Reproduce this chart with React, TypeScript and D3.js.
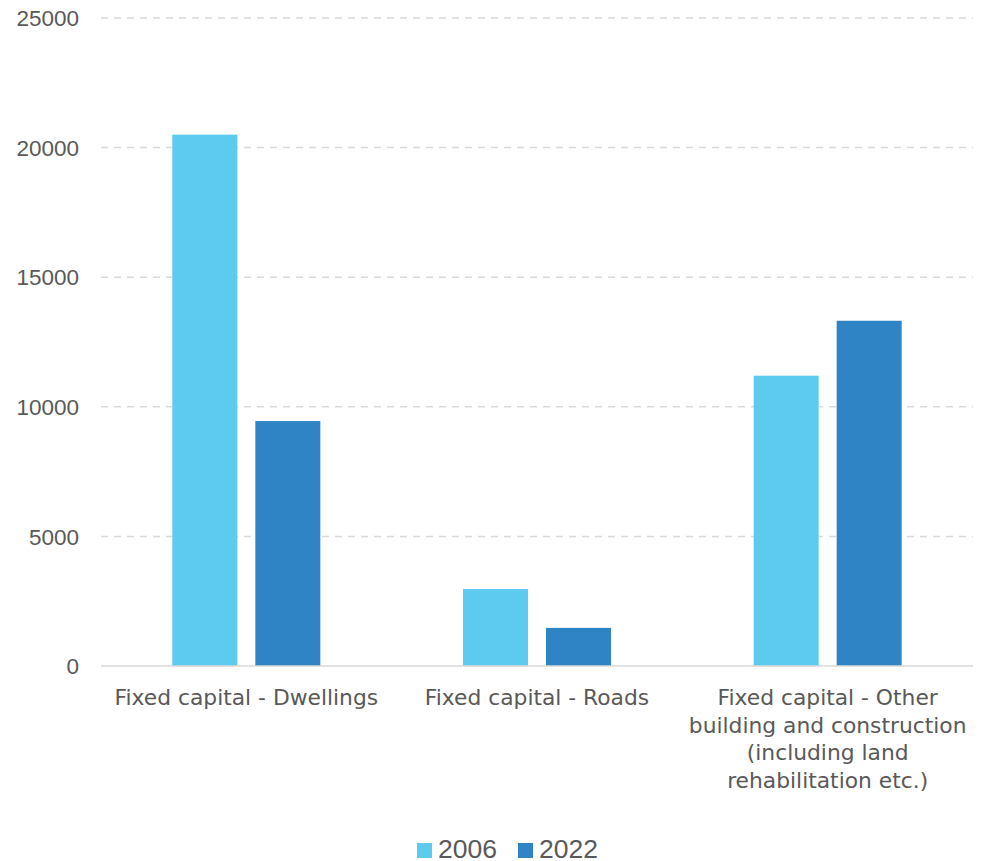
import React from "react";
import * as d3 from "d3";

const categories = [
  ["Fixed capital - Dwellings"],
  ["Fixed capital - Roads"],
  ["Fixed capital - Other", "building and construction", "(including land", "rehabilitation etc.)"],
];
const seriesNames = ["2006", "2022"];
const values2006 = [20500, 2970, 11200];
const values2022 = [9450, 1470, 13320];
const yTicks = [0, 5000, 10000, 15000, 20000, 25000];
const colors = ["#5DCBF0", "#2E84C4"];

const W = 981;
const H = 861;
const LABEL_FONT = "'DejaVu Sans', sans-serif";
const NUM_FONT = "'Liberation Sans', Arial, sans-serif";

export default function App() {
  const left = 101;
  const right = 973;
  const top = 18;
  const bottom = 666;
  const x = d3.scaleBand<number>().domain([0, 1, 2]).range([left, right]);
  const y = d3.scaleLinear().domain([0, 25000]).range([bottom, top]);
  const barW = 65;
  const gap = 18;
  const series = [values2006, values2022];

  return (
    <svg width={W} height={H} style={{ position: "absolute", left: 0, top: 0, background: "#fff" }}>
      {yTicks.map((t) => (
        <g key={t}>
          {t !== 0 && (
            <line x1={left} x2={right} y1={y(t)} y2={y(t)} stroke="#d9d9d9" strokeWidth={1.5} strokeDasharray="7,6" />
          )}
          <text x={79} y={y(t)} dy="0.36em" textAnchor="end" fontFamily={NUM_FONT} fontSize={22.5} fill="#595959">
            {t}
          </text>
        </g>
      ))}
      {series.map((vals, si) =>
        vals.map((v, ci) => {
          const cx = x(ci)! + x.bandwidth() / 2;
          const bx = cx - gap / 2 - barW + si * (barW + gap);
          return <rect key={`${si}-${ci}`} x={bx} y={y(v)} width={barW} height={bottom - y(v)} fill={colors[si]} />;
        })
      )}
      <line x1={left} x2={right} y1={bottom} y2={bottom} stroke="#d9d9d9" strokeWidth={1.5} />
      {categories.map((lines, ci) => {
        const cx = x(ci)! + x.bandwidth() / 2;
        return (
          <text key={ci} textAnchor="middle" fontFamily={LABEL_FONT} fontSize={21.8} fill="#595959">
            {lines.map((l, li) => (
              <tspan key={li} x={cx} y={705 + li * 27.5}>
                {l}
              </tspan>
            ))}
          </text>
        );
      })}
      {seriesNames.map((s, i) => {
        const lx = 417 + i * 101;
        return (
          <g key={s}>
            <rect x={lx} y={843} width={15} height={15} fill={colors[i]} />
            <text x={lx + 21} y={858} fontFamily={NUM_FONT} fontSize={26.5} fill="#595959">
              {s}
            </text>
          </g>
        );
      })}
    </svg>
  );
}
